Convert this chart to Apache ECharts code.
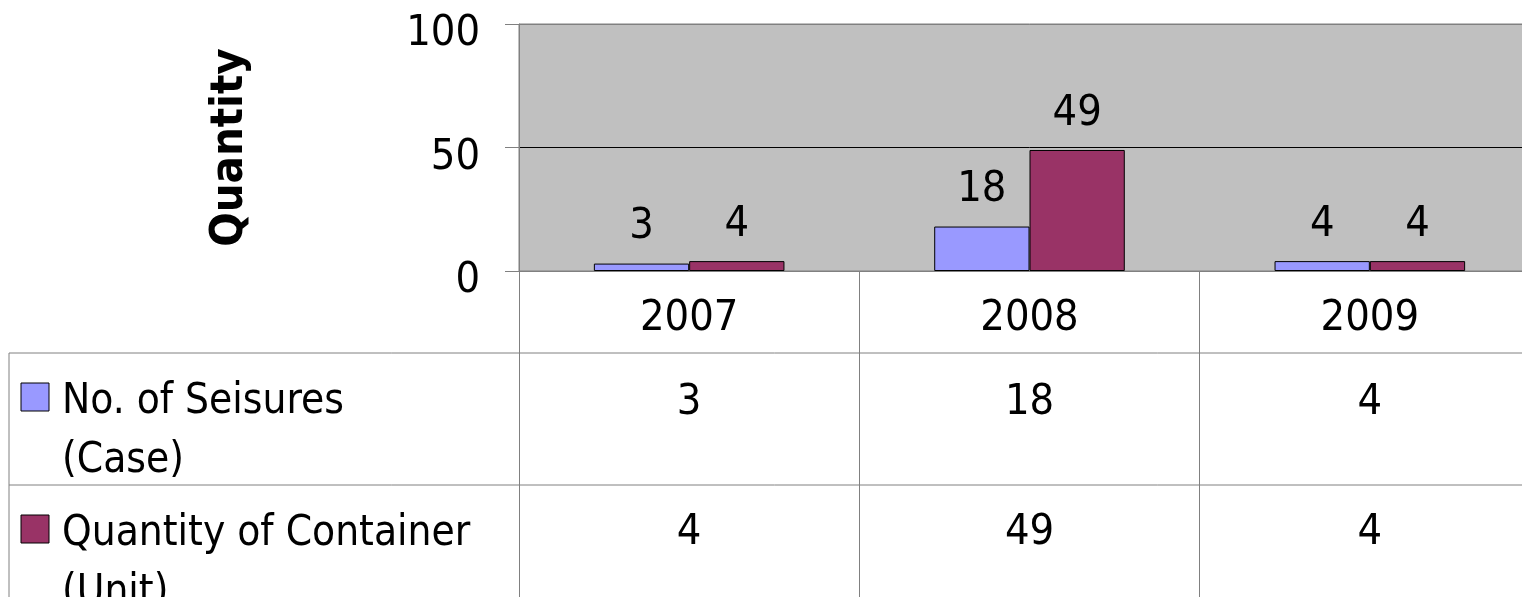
<!DOCTYPE html>
<html>
<head>
<meta charset="utf-8">
<script src="https://cdn.jsdelivr.net/npm/echarts@6/dist/echarts.min.js"></script>
<style>
  html, body { margin: 0; padding: 0; background: #fff; overflow: hidden; }
  /* the plot runs past the right edge of the window, as in the original */
  #chart { width: 1540px; height: 597px; }
</style>
</head>
<body>
<div id="chart"></div>
<script>
// data
const years = ['2007', '2008', '2009'];
const seizures = [3, 18, 4];
const containers = [4, 49, 4];
const seriesNames = ['No. of Seisures\n(Case)', 'Quantity of Container\n(Unit)'];
const seriesColors = ['#9999FF', '#993366'];
const yMin = 0, yMax = 100, yStep = 50;
const yTitle = 'Quantity';

const FONT = '"DejaVu Sans Condensed", "DejaVu Sans", sans-serif';
const FS = 43;

const chart = echarts.init(document.getElementById('chart'));

// table geometry (layout only)
const tableTop = 271;
const rowLines = [353, 485];
const tableBottom = 617;
const legendLeft = 9;
const rowTextTop = [373, 505];
const rowValueY = [403, 533];
const swatchY = [383, 515];

const option = {
  animation: false,
  grid: {
    left: 519,
    top: 24,
    right: 0,
    height: 247,
    show: true,
    backgroundColor: '#C0C0C0',
    borderColor: '#808080',
    borderWidth: 1
  },
  xAxis: {
    type: 'category',
    data: years,
    axisLine: { show: true, lineStyle: { color: '#808080', width: 1 } },
    axisTick: { show: true, length: tableBottom - tableTop, lineStyle: { color: '#808080' } },
    axisLabel: { color: '#000', fontFamily: FONT, fontSize: FS, margin: 26 },
    splitLine: { show: false }
  },
  yAxis: {
    type: 'value',
    min: yMin,
    max: yMax,
    interval: yStep,
    name: yTitle,
    nameLocation: 'middle',
    nameRotate: 90,
    nameGap: 266,
    nameTextStyle: { color: '#000', fontFamily: FONT, fontWeight: 'bold', fontSize: 45 },
    axisLine: { show: true, lineStyle: { color: '#808080' } },
    axisTick: { show: true, length: 14, lineStyle: { color: '#808080' } },
    axisLabel: { color: '#000', fontFamily: FONT, fontSize: FS, margin: 39, verticalAlign: 'top', lineHeight: 20 },
    splitLine: { show: true, lineStyle: { color: ['#808080', '#000', '#808080'], width: 1 } }
  },
  series: [
    {
      name: seriesNames[0],
      type: 'bar',
      data: seizures,
      barGap: 0,
      barCategoryGap: '44%',
      itemStyle: { color: seriesColors[0], borderColor: '#000', borderWidth: 1 },
      label: { show: true, position: 'top', distance: 15, color: '#000', fontFamily: FONT, fontSize: FS }
    },
    {
      name: seriesNames[1],
      type: 'bar',
      data: containers,
      barGap: 0,
      barCategoryGap: '44%',
      itemStyle: { color: seriesColors[1], borderColor: '#000', borderWidth: 1 },
      label: { show: true, position: 'top', distance: 15, color: '#000', fontFamily: FONT, fontSize: FS }
    }
  ]
};

chart.setOption(option);

// data table under the plot
const rows = [seizures, containers];
const graphics = [];
rowLines.forEach(function (y) {
  graphics.push({
    type: 'line',
    shape: { x1: legendLeft, y1: y, x2: 1540, y2: y },
    style: { stroke: '#808080', lineWidth: 1 }
  });
});
graphics.push({
  type: 'line',
  shape: { x1: legendLeft, y1: rowLines[0], x2: legendLeft, y2: tableBottom },
  style: { stroke: '#808080', lineWidth: 1 }
});
rows.forEach(function (vals, r) {
  graphics.push({
    type: 'rect',
    shape: { x: 21, y: swatchY[r], width: 28, height: 28 },
    style: { fill: seriesColors[r], stroke: '#000', lineWidth: 1 }
  });
  graphics.push({
    type: 'text',
    x: 62,
    y: rowTextTop[r],
    style: {
      text: seriesNames[r],
      fill: '#000',
      font: '42px ' + FONT,
      lineHeight: 59,
      verticalAlign: 'top',
      align: 'left'
    }
  });
  vals.forEach(function (v, i) {
    const px = chart.convertToPixel({ xAxisIndex: 0 }, years[i]);
    graphics.push({
      type: 'text',
      x: px,
      y: rowValueY[r],
      style: {
        text: String(v),
        fill: '#000',
        font: FS + 'px ' + FONT,
        align: 'center',
        verticalAlign: 'middle'
      }
    });
  });
});
chart.setOption({ graphic: graphics });
</script>
</body>
</html>
